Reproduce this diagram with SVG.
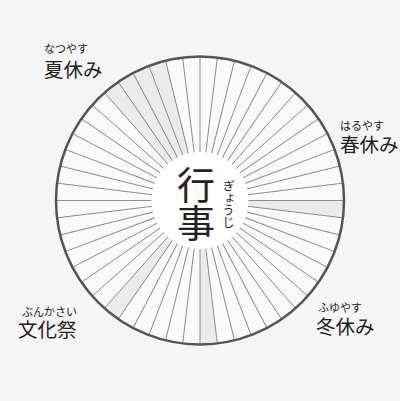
<svg xmlns="http://www.w3.org/2000/svg" width="400" height="401" viewBox="0 0 400 401">
<style>
.jp{font-family:"Noto Sans CJK JP","Noto Sans CJK SC",sans-serif;fill:#222}
.ruby{font-size:11px}
.lbl{font-size:19.5px}
.spoke{stroke:#858585;stroke-width:0.9;fill:none}
.hl{fill:#ebebeb;stroke:none}
</style>
<defs>
<line id="sp" class="spoke" x1="0" y1="-48" x2="0" y2="-144"/>
<path id="wk" class="hl" d="M0,0 L0,-144 A144,144 0 0 1 17.357,-142.950 Z"/>
</defs>
<rect width="400" height="401" fill="#f5f5f5"/>
<g id="wheel" transform="translate(200,200.5)">
<circle r="144" fill="#fafafa"/>
<g id="shaded">
<use href="#wk" transform="rotate(90)"/>
<use href="#wk" transform="rotate(173.0769)"/>
<use href="#wk" transform="rotate(214.6154)"/>
<use href="#wk" transform="rotate(318.4615)"/>
<use href="#wk" transform="rotate(325.3846)"/>
<use href="#wk" transform="rotate(332.3077)"/>
<use href="#wk" transform="rotate(339.2308)"/>
</g>
<g id="connectors">
<use href="#sp"/>
<use href="#sp" transform="rotate(6.9231)"/>
<use href="#sp" transform="rotate(13.8462)"/>
<use href="#sp" transform="rotate(20.7692)"/>
<use href="#sp" transform="rotate(27.6923)"/>
<use href="#sp" transform="rotate(34.6154)"/>
<use href="#sp" transform="rotate(41.5385)"/>
<use href="#sp" transform="rotate(48.4615)"/>
<use href="#sp" transform="rotate(55.3846)"/>
<use href="#sp" transform="rotate(62.3077)"/>
<use href="#sp" transform="rotate(69.2308)"/>
<use href="#sp" transform="rotate(76.1538)"/>
<use href="#sp" transform="rotate(83.0769)"/>
<use href="#sp" transform="rotate(90)"/>
<use href="#sp" transform="rotate(96.9231)"/>
<use href="#sp" transform="rotate(103.8462)"/>
<use href="#sp" transform="rotate(110.7692)"/>
<use href="#sp" transform="rotate(117.6923)"/>
<use href="#sp" transform="rotate(124.6154)"/>
<use href="#sp" transform="rotate(131.5385)"/>
<use href="#sp" transform="rotate(138.4615)"/>
<use href="#sp" transform="rotate(145.3846)"/>
<use href="#sp" transform="rotate(152.3077)"/>
<use href="#sp" transform="rotate(159.2308)"/>
<use href="#sp" transform="rotate(166.1538)"/>
<use href="#sp" transform="rotate(173.0769)"/>
<use href="#sp" transform="rotate(180)"/>
<use href="#sp" transform="rotate(186.9231)"/>
<use href="#sp" transform="rotate(193.8462)"/>
<use href="#sp" transform="rotate(200.7692)"/>
<use href="#sp" transform="rotate(207.6923)"/>
<use href="#sp" transform="rotate(214.6154)"/>
<use href="#sp" transform="rotate(221.5385)"/>
<use href="#sp" transform="rotate(228.4615)"/>
<use href="#sp" transform="rotate(235.3846)"/>
<use href="#sp" transform="rotate(242.3077)"/>
<use href="#sp" transform="rotate(249.2308)"/>
<use href="#sp" transform="rotate(256.1538)"/>
<use href="#sp" transform="rotate(263.0769)"/>
<use href="#sp" transform="rotate(270)"/>
<use href="#sp" transform="rotate(276.9231)"/>
<use href="#sp" transform="rotate(283.8462)"/>
<use href="#sp" transform="rotate(290.7692)"/>
<use href="#sp" transform="rotate(297.6923)"/>
<use href="#sp" transform="rotate(304.6154)"/>
<use href="#sp" transform="rotate(311.5385)"/>
<use href="#sp" transform="rotate(318.4615)"/>
<use href="#sp" transform="rotate(325.3846)"/>
<use href="#sp" transform="rotate(332.3077)"/>
<use href="#sp" transform="rotate(339.2308)"/>
<use href="#sp" transform="rotate(346.1538)"/>
<use href="#sp" transform="rotate(353.0769)"/>
</g>
<circle r="144" fill="none" stroke="#555" stroke-width="2.5"/>
<circle r="48.5" fill="#fff"/>
</g>
<g id="center">
<text class="jp" x="196" y="166" font-size="38" style="writing-mode:vertical-rl">行事</text>
<text class="jp" x="228.5" y="180" font-size="12" style="writing-mode:vertical-rl">ぎょうじ</text>
</g>
<g id="summer">
<text class="jp ruby" x="44" y="53">なつやす<tspan class="lbl" x="44" y="77">夏休み</tspan></text>
</g>
<g id="spring">
<text class="jp ruby" x="340" y="130">はるやす<tspan class="lbl" x="340" y="152">春休み</tspan></text>
</g>
<g id="winter">
<text class="jp ruby" x="318" y="311.5">ふゆやす<tspan class="lbl" x="316" y="334">冬休み</tspan></text>
</g>
<g id="festival">
<text class="jp ruby" x="22" y="315.5">ぶんかさい<tspan class="lbl" x="18" y="337">文化祭</tspan></text>
</g>
</svg>
